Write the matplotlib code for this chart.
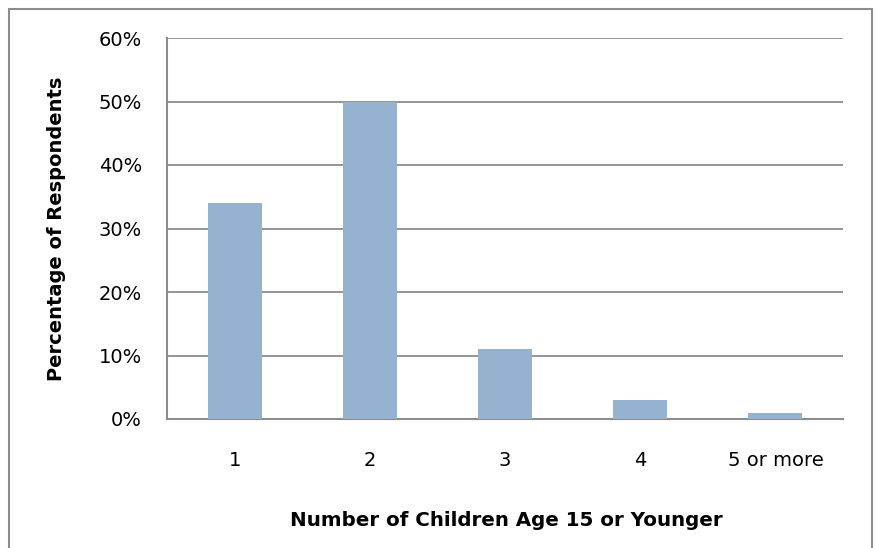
import matplotlib
matplotlib.use("Agg")
import matplotlib.pyplot as plt
from matplotlib.patches import Rectangle
from matplotlib.ticker import FuncFormatter

categories = ["1", "2", "3", "4", "5 or more"]
values = [34, 50, 11, 3, 1]
yticks = [0, 10, 20, 30, 40, 50, 60]

W, H = 879, 548
fig = plt.figure(figsize=(W / 100, H / 100), dpi=100)
ax = fig.add_axes([167 / W, 1 - 419 / H, (843 - 167) / W, (419 - 38) / H])

x = range(len(categories))
ax.bar(x, values, width=0.4, color="#95b3d0", zorder=3)
ax.set_xlim(-0.5, len(categories) - 0.5)
ax.set_ylim(0, 60)
ax.set_yticks(yticks)
ax.yaxis.set_major_formatter(FuncFormatter(lambda v, p: f"{int(v)}%"))
ax.set_xticks(list(x))
ax.set_xticklabels(categories)
ax.grid(axis="y", color="#8c8c8c", linewidth=1.3, zorder=0)
for s in ["top", "right"]:
    ax.spines[s].set_visible(False)
for s in ["left", "bottom"]:
    ax.spines[s].set_color("#8c8c8c")
    ax.spines[s].set_linewidth(1.5)
ax.tick_params(axis="both", length=0, labelsize=14, colors="black")
ax.tick_params(axis="y", pad=18)
ax.tick_params(axis="x", pad=23)
for lab in ax.get_xticklabels() + ax.get_yticklabels():
    lab.set_family(["DejaVu Sans"])

fig.text(57 / W, 1 - 229 / H, "Percentage of Respondents", rotation=90,
         ha="center", va="center", fontsize=14, fontweight="bold",
         family=["DejaVu Sans"])
fig.text(506 / W, 1 - 520 / H, "Number of Children Age 15 or Younger",
         ha="center", va="center", fontsize=14.3, fontweight="bold",
         family=["DejaVu Sans"])

fig.patches.append(Rectangle((9 / W, -0.05), (872 - 9) / W, 1 - 9 / H + 0.05,
                             transform=fig.transFigure, fill=False,
                             edgecolor="#8c8c8c", linewidth=1.5))

fig.savefig("out.png", dpi=100)
